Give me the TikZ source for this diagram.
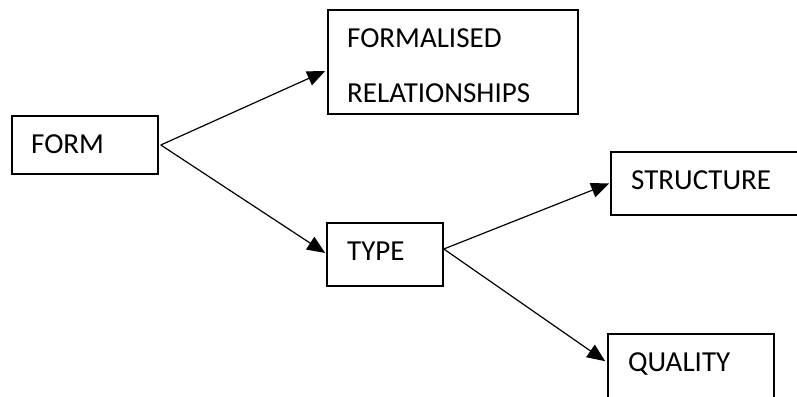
\documentclass[tikz,border=0pt]{standalone}
\usepackage{fontspec}
\setmainfont{Carlito}
\usetikzlibrary{arrows.meta}
\begin{document}
\begin{tikzpicture}[x=1pt,y=1pt,
  box/.style={draw=black, line width=1.6pt, rectangle, inner sep=0pt, fill=none},
  lbl/.style={anchor=base west, inner sep=0pt, font=\fontsize{29}{33}\selectfont},
  link/.style={line width=1.2pt, -{Triangle[length=18pt,width=15pt]}}]
\useasboundingbox (0,0) rectangle (797,396);
\clip (0,0) rectangle (797,396);
% boxes
\node[box, minimum width=146pt, minimum height=58pt] (form) at (85,251) {};
\node[box, minimum width=250pt, minimum height=104pt] (fr) at (453,334) {};
\node[box, minimum width=116pt, minimum height=63pt] (type) at (385,141.5) {};
\node[box, minimum width=219pt, minimum height=63pt] (struct) at (720.5,212.5) {};
\node[box, minimum width=166pt, minimum height=72pt] (qual) at (691,26) {};
% labels
\node[lbl] (tform) at (31,242) {FORM};
\node[lbl] (tfr1) at (347,348) {FORMALISED};
\node[lbl] (tfr2) at (347,293) {RELATIONSHIPS};
\node[lbl] (ttype) at (347,135) {TYPE};
\node[lbl] (tstruct) at (631,206) {STRUCTURE};
\node[lbl] (tqual) at (628,24) {QUALITY};
% connectors
\coordinate (fromform) at ([xshift=2pt]form.east);
\coordinate (fromtype) at ([yshift=5.5pt]type.east);
\draw[link] (fromform) -- ([xshift=-2pt,yshift=-9pt]fr.west);
\draw[link] (fromform) -- ([xshift=-1pt,yshift=1.5pt]type.west);
\draw[link] (fromtype) -- ([xshift=-1pt]struct.west);
\draw[link] (fromtype) -- ([xshift=-2pt,yshift=-28pt]qual.north west);
\end{tikzpicture}
\end{document}
